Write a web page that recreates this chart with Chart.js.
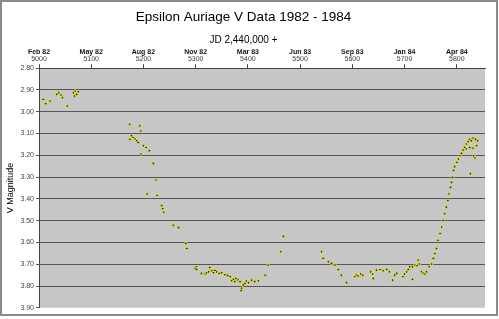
<!DOCTYPE html>
<html>
<head>
<meta charset="utf-8">
<script src="https://cdn.jsdelivr.net/npm/chart.js@4/dist/chart.umd.min.js"></script>
<style>
    body { margin: 0; background: #fff; }
    #wrap { position: absolute; left: 0; top: 0; width: 494px; height: 312px; border: 2px solid #8a8a8a; background: #fff; }
</style>
</head>
<body>
<div id="wrap"><canvas id="epsChart" width="494" height="312"></canvas></div>
<script>
const julianDay = [
    5008, 5013, 5021, 5034, 5038, 5042, 5045, 5054, 5066, 5068, 5069, 5072, 5075,
    5174, 5193, 5195, 5174, 5177, 5180, 5184, 5187, 5190, 5200, 5205, 5211, 5195, 5219,
    5224, 5207, 5226, 5235, 5237, 5239, 5257, 5267, 5281, 5283, 5301, 5327,
    5299, 5302, 5311, 5318, 5321, 5331, 5334, 5340, 5345, 5350, 5366, 5372, 5377, 5381,
    5385, 5388, 5387, 5394, 5401, 5407, 5413, 5420, 5433, 5439, 5463, 5468,
    5325, 5337, 5356, 5361, 5369, 5375, 5391, 5397,
    5541, 5544, 5554, 5560, 5567, 5573, 5579, 5589, 5605, 5608, 5611, 5616, 5620, 5635,
    5639, 5640, 5646, 5653, 5659, 5666, 5671, 5677, 5681, 5685,
    5697, 5700, 5704, 5707, 5710, 5715, 5720, 5724, 5728, 5726, 5715, 5732, 5736, 5739,
    5742, 5747, 5752, 5755, 5758, 5761, 5764, 5768, 5771, 5774, 5777, 5780, 5783, 5785,
    5788, 5790, 5792, 5794, 5796, 5800, 5803, 5806, 5809, 5812, 5815, 5818, 5822, 5825,
    5828, 5831, 5836, 5840, 5818, 5825, 5831, 5832, 5835, 5826, 5838
];
const vMagnitude = [
    2.943, 2.963, 2.951, 2.920, 2.913, 2.923, 2.936, 2.974, 2.913, 2.928, 2.905, 2.920, 2.908,
    3.057, 3.065, 3.088, 3.126, 3.110, 3.118, 3.125, 3.133, 3.141, 3.156, 3.164, 3.179, 3.194, 3.237,
    3.313, 3.377, 3.384, 3.430, 3.445, 3.461, 3.521, 3.532, 3.605, 3.628, 3.712, 3.715,
    3.719, 3.724, 3.742, 3.745, 3.739, 3.730, 3.739, 3.735, 3.742, 3.739, 3.757, 3.769, 3.765, 3.772,
    3.780, 3.810, 3.821, 3.788, 3.785, 3.773, 3.780, 3.776, 3.750, 3.704, 3.643, 3.572,
    3.735, 3.728, 3.748, 3.752, 3.776, 3.780, 3.795, 3.777,
    3.643, 3.673, 3.689, 3.696, 3.704, 3.724, 3.750, 3.785, 3.757, 3.750, 3.754, 3.745, 3.750, 3.735,
    3.745, 3.765, 3.727, 3.724, 3.730, 3.724, 3.735, 3.773, 3.750, 3.742,
    3.757, 3.745, 3.735, 3.724, 3.712, 3.712, 3.704, 3.707, 3.699, 3.681, 3.769, 3.735, 3.742, 3.745,
    3.735, 3.712, 3.699, 3.673, 3.651, 3.628, 3.590, 3.559, 3.529, 3.499, 3.468, 3.438, 3.407, 3.377,
    3.347, 3.324, 3.301, 3.270, 3.252, 3.232, 3.217, 3.202, 3.191, 3.176, 3.164, 3.148, 3.137, 3.126,
    3.133, 3.121, 3.126, 3.133, 3.171, 3.164, 3.167, 3.202, 3.212, 3.285, 3.156
];
const dayTicks = [5000, 5100, 5200, 5300, 5400, 5500, 5600, 5700, 5800];
const monthLabels = ['Feb 82', 'May 82', 'Aug 82', 'Nov 82', 'Mar 83', 'Jun 83', 'Sep 83', 'Jan 84', 'Apr 84'];

const points = julianDay.map((d, i) => ({ x: d, y: vMagnitude[i] }));
const FONT = 'Liberation Sans, Arial, sans-serif';

// gray plot background like the old spreadsheet chart
const plotBg = {
    id: 'plotBg',
    beforeDraw(chart) {
        const a = chart.chartArea;
        const c = chart.ctx;
        c.save();
        c.fillStyle = '#c6c6c6';
        c.fillRect(a.left, a.top, a.right - a.left, a.bottom - a.top);
        c.restore();
    }
};

const setTicks = (scale) => { scale.ticks = dayTicks.map(v => ({ value: v })); };

new Chart(document.getElementById('epsChart'), {
    type: 'scatter',
    data: {
        datasets: [{
            data: points,
            pointRadius: 1.3,
            pointBackgroundColor: '#262600',
            pointBorderColor: 'rgba(232,232,80,0.9)',
            pointBorderWidth: 1
        }]
    },
    plugins: [plotBg],
    options: {
        responsive: false,
        animation: false,
        layout: { padding: { left: 0, right: 11, top: 0, bottom: 6 } },
        plugins: {
            legend: { display: false },
            tooltip: { enabled: false },
            title: {
                display: true,
                text: 'Epsilon Auriage V Data 1982 - 1984',
                color: '#000',
                font: { family: FONT, size: 13.5, weight: 'normal' },
                padding: { top: 7, bottom: 9 }
            },
            subtitle: {
                display: true,
                text: 'JD 2,440,000 +',
                color: '#000',
                font: { family: FONT, size: 10 },
                padding: { top: 0, bottom: 3 }
            }
        },
        scales: {
            x: {
                type: 'linear',
                position: 'top',
                weight: 1,
                min: 5000,
                max: 5854,
                afterBuildTicks: setTicks,
                afterFit: (s) => { s.height = 12; },
                grid: { drawOnChartArea: false, color: '#444', tickLength: 4 },
                border: { color: '#444' },
                ticks: {
                    font: { family: FONT, size: 7 },
                    color: '#333',
                    padding: 1,
                    maxRotation: 0,
                    autoSkip: false,
                    callback: (v) => String(v)
                }
            },
            months: {
                type: 'linear',
                position: 'top',
                weight: 2,
                min: 5000,
                max: 5854,
                afterBuildTicks: setTicks,
                afterFit: (s) => { s.height = 7; },
                grid: { display: false, drawTicks: false },
                border: { display: false },
                ticks: {
                    font: { family: FONT, size: 7, weight: 'bold' },
                    color: '#111',
                    padding: 0,
                    maxRotation: 0,
                    autoSkip: false,
                    callback: (v) => monthLabels[dayTicks.indexOf(v)]
                }
            },
            y: {
                reverse: true,
                min: 2.8,
                max: 3.9,
                afterFit: (s) => { s.width = 37; },
                title: {
                    display: true,
                    text: 'V Magnitude',
                    color: '#000',
                    font: { family: FONT, size: 9 },
                    padding: { top: 3, bottom: 0 }
                },
                grid: {
                    color: (ctx) => ctx.tick && Math.abs(ctx.tick.value - 3.9) < 0.001 ? 'rgba(0,0,0,0)' : '#555',
                    tickColor: '#555',
                    tickLength: 3
                },
                border: { color: '#444' },
                ticks: {
                    stepSize: 0.1,
                    font: { family: FONT, size: 7 },
                    color: '#444',
                    padding: 2,
                    callback: (v) => v.toFixed(2)
                }
            }
        }
    }
});
</script>
</body>
</html>
